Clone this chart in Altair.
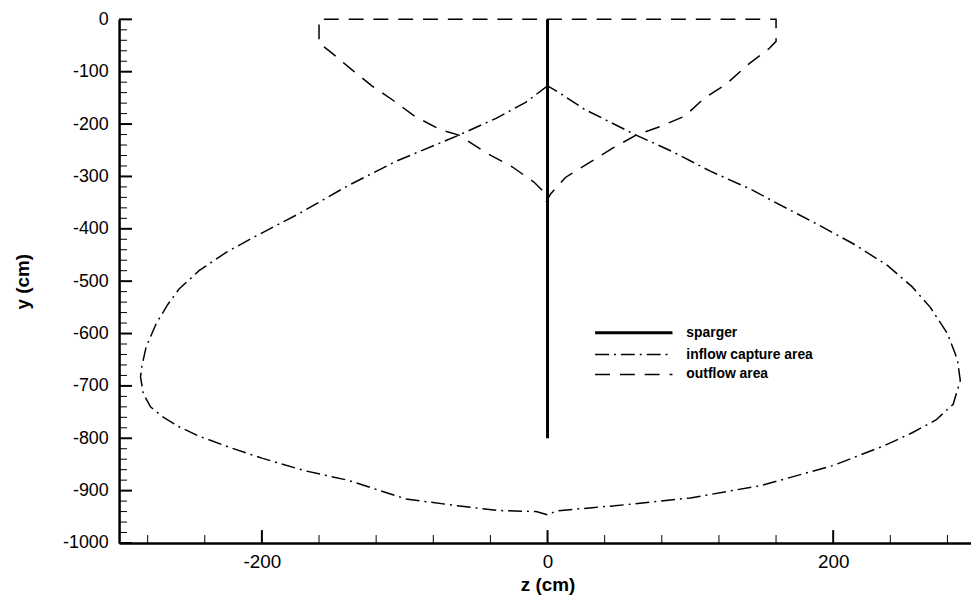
import altair as alt
import pandas as pd

# ---- data ----
sparger_z = [0, 0]
sparger_y = [0, -800]

inflow_z = [0, -15, -36, -62, -106, -140, -174, -205, -225, -244, -258, -266, -274, -281, -284, -285,
            -283, -278, -270, -258, -244, -222, -200, -170, -140, -99, -60, -34, -8, 0,
            6, 33, 47, 100, 150, 200, 235, 255, 272, 284, 289, 287, 280, 268, 255, 238,
            215, 190, 157, 142, 114, 87, 62, 26, 7, 0]
inflow_y = [-127, -158, -189, -221, -271, -318, -371, -415, -445, -480, -515, -545, -581, -625, -662, -683,
            -715, -740, -758, -778, -796, -818, -838, -862, -880, -916, -930, -938, -940, -946,
            -939, -932, -929, -914, -890, -852, -815, -790, -765, -735, -690, -650, -600, -550, -510, -470,
            -430, -393, -346, -324, -290, -252, -221, -172, -138, -127]

outflow_z = [-1, 2, 12.5, 29, 45, 62, 78.5, 96, 110, 125, 140, 155, 160, 160, -160, -160,
             -152, -138, -123, -108, -93, -75, -62, -43, -24.5, -9, -2.5]
outflow_y = [-349, -334, -302, -274, -247, -221, -205, -185, -150, -124, -87, -56, -42, 0, 0, -45,
             -62, -94, -127, -155, -185, -211, -221, -255, -282, -312, -330]

x_major = [-200, 0, 200]
x_minor = [-280, -240, -160, -120, -80, -40, 40, 80, 120, 160, 240, 280]
y_major = [0, -100, -200, -300, -400, -500, -600, -700, -800, -900, -1000]
y_minor = [v for v in range(-980, 0, 20) if v % 100 != 0]

legend_labels = ["sparger", "inflow capture area", "outflow area"]

# ---- frames ----
def path_df(zs, ys):
    return pd.DataFrame({"z": zs, "y": ys, "i": list(range(len(zs)))})

sparger = path_df(sparger_z, sparger_y)
inflow = path_df(inflow_z, inflow_y)
outflow = path_df(outflow_z, outflow_y)

W, H = 859, 528
FONT = "Liberation Sans"

xs = alt.Scale(domain=[-300, 296.5], nice=False, zero=False)
ys = alt.Scale(domain=[-1000, 0], nice=False, zero=False)

xaxis = alt.Axis(values=x_major, labelExpr="'' + datum.value", ticks=False, grid=False,
                 labelPadding=10, labelFontSize=19,
                 title="z (cm)", titlePadding=4, titleX=432)
yaxis = alt.Axis(values=y_major, labelExpr="'' + datum.value", ticks=False, grid=False,
                 labelPadding=11, labelFontSize=18,
                 title="y (cm)", titlePadding=30)

X = alt.X("z:Q", scale=xs, axis=xaxis)
Y = alt.Y("y:Q", scale=ys, axis=yaxis)

inflow_layer = alt.Chart(inflow).mark_line(
    color="black", strokeWidth=1.5, strokeDash=[14, 5, 2, 5], strokeCap="butt"
).encode(x=X, y=Y, order="i:Q")

outflow_layer = alt.Chart(outflow).mark_line(
    color="black", strokeWidth=1.5, strokeDash=[15, 10], strokeCap="butt"
).encode(x=X, y=Y, order="i:Q")

sparger_layer = alt.Chart(sparger).mark_line(
    color="black", strokeWidth=3
).encode(x=X, y=Y, order="i:Q")

# inward ticks
xmaj = alt.Chart(pd.DataFrame({"z": x_major})).mark_rule(color="black", strokeWidth=2).encode(
    x=X, y=alt.value(H), y2=alt.value(H - 13))
xmin = alt.Chart(pd.DataFrame({"z": x_minor})).mark_rule(color="black", strokeWidth=1).encode(
    x=X, y=alt.value(H), y2=alt.value(H - 8))
ymaj = alt.Chart(pd.DataFrame({"y": y_major})).mark_rule(color="black", strokeWidth=2).encode(
    y=Y, x=alt.value(0), x2=alt.value(13))
ymin = alt.Chart(pd.DataFrame({"y": y_minor})).mark_rule(color="black", strokeWidth=1).encode(
    y=Y, x=alt.value(0), x2=alt.value(8))

# legend
leg_styles = [
    dict(strokeWidth=3),
    dict(strokeWidth=1.5, strokeDash=[14, 5, 2, 5], strokeCap="butt"),
    dict(strokeWidth=1.5, strokeDash=[15, 10], strokeCap="butt"),
]
leg_rows = [316, 338, 358]
legend_layers = []
for lab, st, yy in zip(legend_labels, leg_styles, leg_rows):
    d = pd.DataFrame({"label": [lab]})
    legend_layers.append(
        alt.Chart(d).mark_rule(color="black", **st).encode(
            x=alt.value(480), x2=alt.value(558), y=alt.value(yy)))
    legend_layers.append(
        alt.Chart(d).mark_text(align="left", baseline="middle", font=FONT, fontSize=14,
                               fontWeight="bold", color="black").encode(
            x=alt.value(572), y=alt.value(yy), text="label:N"))

chart = alt.layer(
    inflow_layer, outflow_layer, sparger_layer, xmaj, xmin, ymaj, ymin, *legend_layers
).properties(
    width=W, height=H, autosize="none",
    padding={"left": 112, "top": 9, "right": 0, "bottom": 50}
).configure_view(stroke=None).configure_axis(
    domainColor="black", domainWidth=2.5, labelColor="black", labelFont=FONT,
    titleFont=FONT, titleFontSize=19, titleFontWeight="bold",
    titleColor="black"
)

chart.save("out.html", embed_options={"renderer": "svg", "actions": False})
